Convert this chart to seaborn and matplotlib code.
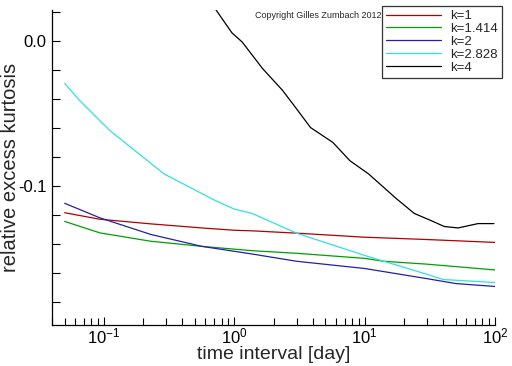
import numpy as np
import pandas as pd
import matplotlib
matplotlib.use("Agg")
import matplotlib.pyplot as plt
import matplotlib.ticker as mticker
import seaborn as sns

# curves (time interval in days, relative excess kurtosis)
x_k1 = [0.05, 0.093, 0.229, 0.562, 1.0, 1.37, 3, 10, 30, 100]
y_k1 = [-0.1185, -0.123, -0.1262, -0.129, -0.1306, -0.131, -0.1326, -0.1354, -0.137, -0.139]

x_k1414 = [0.05, 0.093, 0.229, 0.562, 1.37, 3, 10, 14, 30, 100]
y_k1414 = [-0.1245, -0.1324, -0.1382, -0.1417, -0.1447, -0.1465, -0.150, -0.152, -0.154, -0.158]

x_k2 = [0.05, 0.093, 0.229, 0.562, 1.37, 3, 10, 30, 50, 100]
y_k2 = [-0.112, -0.122, -0.1335, -0.1417, -0.147, -0.152, -0.157, -0.164, -0.1674, -0.1694]

x_k2828 = [0.05, 0.065, 0.111, 0.289, 0.71, 1.0, 1.37, 3, 10, 14, 30, 40, 100]
y_k2828 = [-0.0292, -0.041, -0.0618, -0.0917, -0.110, -0.116, -0.119, -0.1326, -0.148, -0.152,
           -0.161, -0.1646, -0.1667]

x_k4 = [0.68, 0.96, 1.15, 1.64, 2.34, 2.79, 3.84, 5.7, 7.7, 10.7, 17.6, 24, 32.4, 40.7, 52, 74, 98]
y_k4 = [0.025, 0.0056, -0.0007, -0.0188, -0.034, -0.043, -0.0597, -0.070, -0.0826, -0.0917,
        -0.109, -0.119, -0.124, -0.128, -0.129, -0.126, -0.126]

labels = ["k=1", "k=1.414", "k=2", "k=2.828", "k=4"]
colors = ["#b00000", "#00a000", "#2020b0", "#30e0e0", "#000000"]

frames = []
for lab, xs, ys in zip(labels,
                       [x_k1, x_k1414, x_k2, x_k2828, x_k4],
                       [y_k1, y_k1414, y_k2, y_k2828, y_k4]):
    frames.append(pd.DataFrame({"t": xs, "kurt": ys, "k": lab}))
df = pd.concat(frames, ignore_index=True)

sns.set_style("white")
plt.rcParams["font.family"] = ["Liberation Sans", "DejaVu Sans"]
plt.rcParams["axes.unicode_minus"] = False

fig = plt.figure(figsize=(5.12, 3.66), dpi=100)
ax = fig.add_axes([0.1016, 0.112, 0.8654, 0.861])

sns.lineplot(data=df, x="t", y="kurt", hue="k", hue_order=labels,
             palette=dict(zip(labels, colors)), estimator=None, sort=True,
             linewidth=0.9, ax=ax)

ax.set_xscale("log")
ax.set_xlim(0.04, 100)
ax.set_ylim(-0.196, 0.0215)

ax.yaxis.set_major_locator(mticker.MultipleLocator(0.1))
ax.yaxis.set_minor_locator(mticker.MultipleLocator(0.02))
ax.yaxis.set_major_formatter(mticker.FormatStrFormatter("%.1f"))
ax.xaxis.set_major_locator(mticker.LogLocator(base=10))
ax.xaxis.set_minor_locator(mticker.LogLocator(base=10, subs=np.arange(2, 10)))
ax.xaxis.set_minor_formatter(mticker.NullFormatter())

ax.tick_params(axis="both", which="both", direction="in", length=6, width=0.8,
               labelsize=12, colors="black", bottom=True, left=True)
ax.tick_params(axis="x", which="minor", length=5)
ax.tick_params(axis="x", which="major", pad=1)
ax.tick_params(axis="y", which="major", pad=4)

sns.despine(ax=ax)
for s in ["left", "bottom"]:
    ax.spines[s].set_color("black")
    ax.spines[s].set_linewidth(0.9)

ax.set_xlabel("time interval [day]", fontsize=14)
ax.set_ylabel("relative excess kurtosis", fontsize=14.5)
ax.xaxis.set_label_coords(0.5, -0.068)
ax.yaxis.set_label_coords(-0.073, 0.5)

leg = ax.legend(loc="upper right", bbox_to_anchor=(502 / 512, 1 - 6 / 366),
                bbox_transform=fig.transFigure, fontsize=9.5, handlelength=4.2,
                frameon=True, fancybox=False, borderpad=0.3, labelspacing=0.05,
                handletextpad=0.7, borderaxespad=0)
leg.get_frame().set_edgecolor("black")
leg.get_frame().set_linewidth(0.9)

fig.text(255 / 512, 1 - 15 / 366, "Copyright Gilles Zumbach 2012", fontsize=6.5,
         va="center", ha="left")

fig.savefig("out.png", dpi=100)
